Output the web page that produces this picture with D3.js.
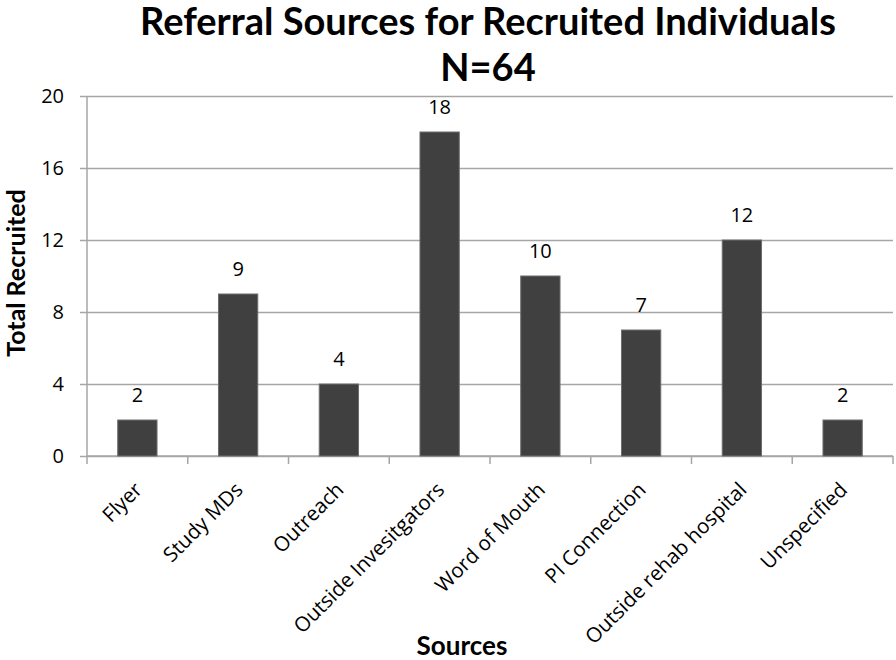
<!DOCTYPE html>
<html>
<head>
<meta charset="utf-8">
<script src="https://cdn.jsdelivr.net/npm/d3@7"></script>
<style>
  body { margin: 0; background: #fff; }
  text { font-family: "Open Sans", sans-serif; fill: #000; }
</style>
</head>
<body>
<svg id="chart"></svg>
<script>
// data
const sources = ["Flyer", "Study MDs", "Outreach", "Outside Invesitgators",
                 "Word of Mouth", "PI Connection", "Outside rehab hospital", "Unspecified"];
const recruited = [2, 9, 4, 18, 10, 7, 12, 2];
const yTicks = [0, 4, 8, 12, 16, 20];
const titleLines = ["Referral Sources for Recruited Individuals", "N=64"];

const rows = sources.map((s, i) => ({ source: s, value: recruited[i] }));

const W = 896, H = 660;
const margin = { top: 96, right: 3, bottom: 204, left: 87 };
const width = W - margin.left - margin.right,
      height = H - margin.top - margin.bottom;

const svg = d3.select("#chart")
    .attr("width", W)
    .attr("height", H);

const g = svg.append("g")
    .attr("transform", `translate(${margin.left},${margin.top})`);

// bars sit in the middle of each category slot
const x = d3.scaleBand()
    .domain(sources)
    .range([0, width])
    .paddingInner(0.61)
    .paddingOuter(0.305);

const y = d3.scaleLinear()
    .domain([0, 20])
    .range([height, 0]);

const gridColor = "#a6a6a6";

// gridlines + y axis
const yAxis = g.append("g")
    .call(d3.axisLeft(y).tickValues(yTicks).tickSize(-width).tickPadding(23))
    .call(a => a.select(".domain").remove());
yAxis.selectAll(".tick line")
    .attr("x1", -7)
    .attr("stroke", gridColor)
    .attr("stroke-width", 1.5);
yAxis.selectAll(".tick text")
    .style("font-size", "20px")
    .style("font-family", "'Open Sans', sans-serif")
    .attr("fill", "#000");

// left axis line
g.append("line")
    .attr("x1", 0).attr("x2", 0)
    .attr("y1", 0).attr("y2", height)
    .attr("stroke", gridColor)
    .attr("stroke-width", 1.5);

// bottom axis line with ticks on the category boundaries
g.append("line")
    .attr("x1", 0).attr("x2", width)
    .attr("y1", height).attr("y2", height)
    .attr("stroke", gridColor)
    .attr("stroke-width", 1.5);

const step = x.step();
const bounds = d3.range(sources.length + 1).map(i => i * step);
g.append("g")
    .selectAll("line")
    .data(bounds)
    .join("line")
    .attr("x1", d => d).attr("x2", d => d)
    .attr("y1", height).attr("y2", height + 8)
    .attr("stroke", gridColor)
    .attr("stroke-width", 1.5);

// bars
g.append("g")
    .selectAll("rect")
    .data(rows)
    .join("rect")
    .attr("x", d => x(d.source))
    .attr("y", d => y(d.value))
    .attr("width", x.bandwidth())
    .attr("height", d => y(0) - y(d.value))
    .attr("fill", "#404040")
    .attr("stroke", "#6e6e6e")
    .attr("stroke-width", 1);

// value labels
g.append("g")
    .selectAll("text")
    .data(rows)
    .join("text")
    .attr("x", d => x(d.source) + x.bandwidth() / 2)
    .attr("y", d => y(d.value) - 18)
    .attr("text-anchor", "middle")
    .style("font-size", "20px")
    .text(d => d.value);

// rotated category labels
g.append("g")
    .selectAll("text")
    .data(rows)
    .join("text")
    .attr("transform", d => `translate(${x(d.source) + x.bandwidth() / 2 + 6},${height + 35}) rotate(-45)`)
    .attr("text-anchor", "end")
    .style("font-size", "20.5px")
    .text(d => d.source);

// title
svg.append("g")
    .selectAll("text")
    .data(titleLines)
    .join("text")
    .attr("x", 488)
    .attr("y", (d, i) => 35 + i * 46)
    .attr("text-anchor", "middle")
    .style("font-family", "Lato, sans-serif")
    .style("font-weight", "bold")
    .style("font-size", "38px")
    .text(d => d);

// axis titles
svg.append("text")
    .attr("x", 462)
    .attr("y", 655)
    .attr("text-anchor", "middle")
    .style("font-family", "Lato, sans-serif")
    .style("font-weight", "bold")
    .style("font-size", "26px")
    .text("Sources");

svg.append("text")
    .attr("transform", "rotate(-90)")
    .attr("x", -273)
    .attr("y", 25)
    .attr("text-anchor", "middle")
    .style("font-family", "Lato, sans-serif")
    .style("font-weight", "bold")
    .style("font-size", "25px")
    .text("Total Recruited");
</script>
</body>
</html>
